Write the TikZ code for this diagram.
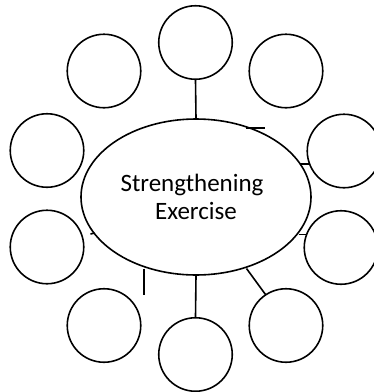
\documentclass[tikz,border=0pt]{standalone}
\usepackage{fontspec}
\setmainfont{Carlito}
\usetikzlibrary{shapes.geometric}
\begin{document}
\begin{tikzpicture}[x=1pt,y=-1pt,
  bubble/.style={draw=black,line width=1.6pt,circle,minimum size=73.5pt,inner sep=0pt},
  hub/.style={draw=black,line width=1.6pt,ellipse,minimum width=230pt,minimum height=156pt,inner sep=0pt,
    align=center,font=\fontsize{25}{28}\selectfont},
  link/.style={draw=black,line width=1.6pt}]
\useasboundingbox (0,0) rectangle (374,392);
\clip (0,0) rectangle (374,392);
% central ellipse
\node[hub] (ell) at (196,197) {Strengthening\hspace*{8pt}\\Exercise};
% surrounding bubbles
\node[bubble] (ctop) at (195.5,42.5) {};
\node[bubble] (cul) at (104,71) {};
\node[bubble] (cur) at (286,71) {};
\node[bubble] (cl) at (47,150.5) {};
\node[bubble] (cr) at (344,151) {};
\node[bubble] (cll) at (47,247) {};
\node[bubble] (crl) at (341,247.5) {};
\node[bubble] (cbl) at (104,325.5) {};
\node[bubble] (cb) at (195.5,354.5) {};
\node[bubble] (cbr) at (286,325.5) {};
% connector end points
\coordinate (t1a) at (246,128);
\coordinate (t1b) at (265,128);
\coordinate (r1a) at (299.5,164);
\coordinate (r1b) at (309,164);
\coordinate (r2a) at (298.5,234.5);
\coordinate (r2b) at (306,234.5);
\coordinate (l2a) at (94.5,233);
\coordinate (l2b) at (90.5,234);
\coordinate (b1a) at (144,268.5);
\coordinate (b1b) at (144,294.5);
\coordinate (b2a) at (246.5,268.5);
\coordinate (b2b) at (265.5,294.5);
% connectors
\draw[link] (ell.north) -- (ctop.south);
\draw[link] (ell.south) -- (cb.north);
\draw[link] (t1a) -- (t1b);
\draw[link] (r1a) -- (r1b);
\draw[link] (r2a) -- (r2b);
\draw[link] (l2a) -- (l2b);
\draw[link] (b1a) -- (b1b);
\draw[link] (b2a) -- (b2b);
\end{tikzpicture}
\end{document}
